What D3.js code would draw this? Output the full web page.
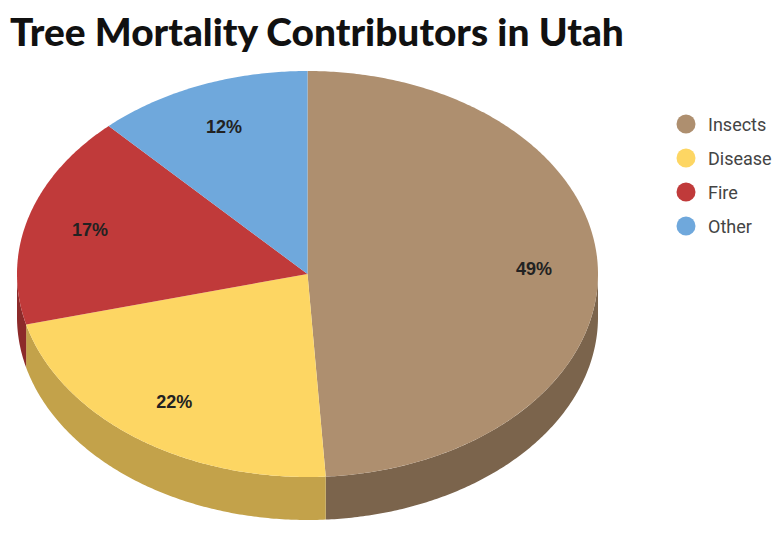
<!DOCTYPE html>
<html><head><meta charset="utf-8">
<script src="https://cdn.jsdelivr.net/npm/d3@7"></script>
<style>body{margin:0;background:#fff;overflow:hidden}svg{display:block}</style>
</head><body>
<svg id="chart" width="775" height="538"></svg>
<script>
const title = "Tree Mortality Contributors in Utah";
const categories = ["Insects", "Disease", "Fire", "Other"];
const values = [49, 22, 17, 12];
const topColors = ["#ae8f6f", "#fdd663", "#c03a3a", "#6fa8dc"];
const sideColors = ["#7b644c", "#c3a24a", "#8c2a2a", "#4f7fae"];

const svg = d3.select("#chart");
const cx = 307.5, cy = 274, rx = 290.5, ry = 203, depth = 43;

// title
const t = svg.append("text").attr("x", 10).attr("y", 46)
  .attr("font-family", "Lato").attr("font-weight", 900)
  .attr("font-size", 38).attr("fill", "#111").text(title);
const tl = t.node().getComputedTextLength();
t.attr("font-size", 38 * 614 / tl);

const pie = d3.pie().sort(null).value(d => d)
  .startAngle(0).endAngle(2 * Math.PI);
const arcs = pie(values);

const px = a => cx + rx * Math.sin(a);
const py = a => cy - ry * Math.cos(a);

function topPath(a0, a1) {
  const p = d3.path();
  p.moveTo(cx, cy);
  const n = Math.max(2, Math.ceil((a1 - a0) / 0.01));
  for (let i = 0; i <= n; i++) {
    const a = a0 + (a1 - a0) * i / n;
    p.lineTo(px(a), py(a));
  }
  p.closePath();
  return p.toString();
}
function sidePath(a0, a1) {
  const p = d3.path();
  const n = Math.max(2, Math.ceil((a1 - a0) / 0.01));
  for (let i = 0; i <= n; i++) {
    const a = a0 + (a1 - a0) * i / n;
    if (i === 0) p.moveTo(px(a), py(a)); else p.lineTo(px(a), py(a));
  }
  for (let i = n; i >= 0; i--) {
    const a = a0 + (a1 - a0) * i / n;
    p.lineTo(px(a), py(a) + depth);
  }
  p.closePath();
  return p.toString();
}

const g = svg.append("g");
arcs.forEach((d, i) => {
  const a0 = Math.max(d.startAngle, Math.PI / 2);
  const a1 = Math.min(d.endAngle, 3 * Math.PI / 2);
  if (a1 > a0) g.append("path").attr("d", sidePath(a0, a1)).attr("fill", sideColors[i]);
});
arcs.forEach((d, i) => {
  g.append("path").attr("d", topPath(d.startAngle, d.endAngle)).attr("fill", topColors[i]);
});
const f = 0.78;
arcs.forEach((d, i) => {
  const m = (d.startAngle + d.endAngle) / 2;
  g.append("text")
    .attr("x", cx + f * rx * Math.sin(m))
    .attr("y", cy - f * ry * Math.cos(m))
    .attr("text-anchor", "middle").attr("dominant-baseline", "central")
    .attr("font-family", "Arial, Liberation Sans, sans-serif").attr("font-weight", "bold")
    .attr("font-size", 18).attr("fill", "#222")
    .text(Math.round(d.value / d3.sum(values) * 100) + "%");
});

const ly = d3.scalePoint().domain(categories).range([124, 226]);
const lg = svg.append("g");
categories.forEach((c, i) => {
  lg.append("circle").attr("cx", 686).attr("cy", ly(c)).attr("r", 9.5).attr("fill", topColors[i]);
  lg.append("text").attr("x", 708).attr("y", ly(c)).attr("dominant-baseline", "central")
    .attr("font-family", "Roboto").attr("font-size", 18).attr("fill", "#444").text(c);
});
</script>
</body></html>
